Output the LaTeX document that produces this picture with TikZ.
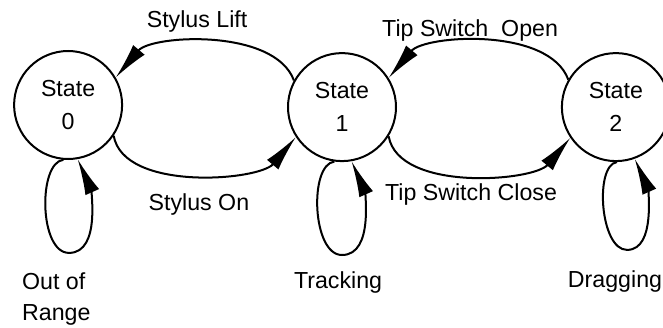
\documentclass[tikz,border=0pt]{standalone}
\usepackage{fontspec}
\setmainfont{Liberation Sans}
\usetikzlibrary{arrows.meta}
\tikzset{state/.style={draw,circle,line width=1.9pt,minimum size=3.6cm,inner sep=0pt,align=center},
  trans/.style={line width=1.9pt,arrows={-Latex[length=12mm,width=5mm]}},
  lbl/.style={anchor=base,inner sep=0pt}}

\begin{document}
\begin{tikzpicture}[font=\fontsize{22}{31}\selectfont]
\useasboundingbox (0,0) rectangle (22.1,10.9);
\node[state] (s0) at (2.27,7.4) {State\\0};
\node[state] (s1) at (11.4,7.33) {State\\1};
\node[state] (s2) at (20.53,7.33) {State\\2};
\coordinate (b0) at (2.3,2.47);
\coordinate (b1) at (11.4,2.4);
\coordinate (b2) at (20.9,2.57);
\draw[trans] (s1.151) to[out=110,in=50,looseness=0.8] (s0.30);
\draw[trans] (s0.326) to[out=-80,in=230,looseness=0.8] (s1.213);
\draw[trans] (s2.150) to[out=110,in=50,looseness=0.8] (s1.32);
\draw[trans] (s1.328) to[out=-80,in=230,looseness=0.8] (s2.214);
\draw[trans] (s0.265) .. controls +(-0.85,-0.1) and +(-1.0,0) .. (b0) .. controls +(1.1,0) and +(0.4,-0.9) .. (s0.280);
\draw[trans] (s1.262) .. controls +(-0.85,-0.1) and +(-1.0,0) .. (b1) .. controls +(1.1,0) and +(0.4,-0.9) .. (s1.280);
\draw[trans] (s2.271) .. controls +(-0.75,-0.1) and +(-0.9,0) .. (b2) .. controls +(1.0,0) and +(0.4,-0.9) .. (s2.290);
\node[lbl] (lift) at (6.57,10.0) {Stylus Lift};
\node[lbl] (on) at (6.63,3.87) {Stylus On};
\node[lbl] (open) at (15.67,9.7) {Tip Switch\ \ Open};
\node[lbl] (close) at (15.7,4.23) {Tip Switch Close};
\node[anchor=north west,inner sep=0pt,align=left,font=\fontsize{22}{28.5}\selectfont] (range) at (0.73,1.8) {Out of\\Range};
\node[lbl] (track) at (11.27,1.3) {Tracking};
\node[lbl] (drag) at (20.5,1.33) {Dragging};
\end{tikzpicture}
\end{document}
